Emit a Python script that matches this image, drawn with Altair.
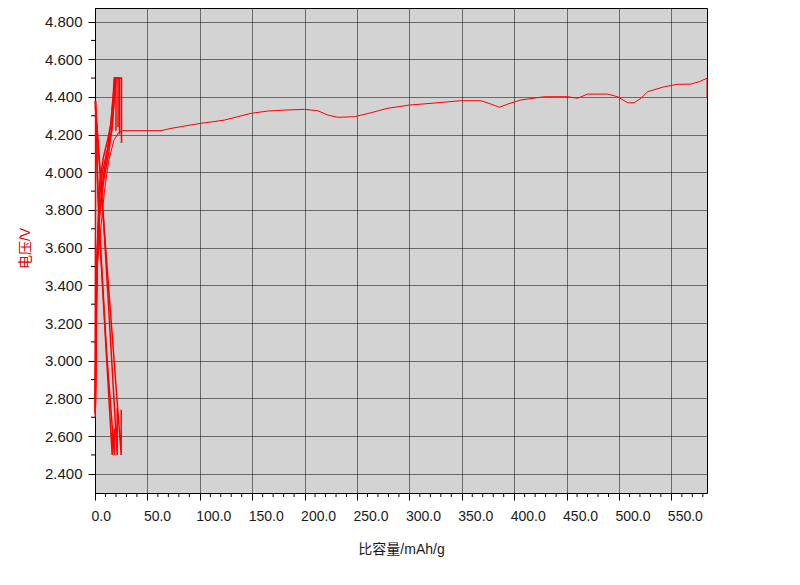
import altair as alt
import pandas as pd

# ---- data (x: specific capacity mAh/g, v: voltage V) ----
c1_x = [0.0, 0.3, 0.5, 0.5]
c1_v = [2.72, 3.40, 4.00, 4.38]
d1_x = [0.5, 2.0, 3.6, 10.0, 16.4, 16.6]
d1_v = [4.38, 4.05, 3.75, 3.12, 2.50, 2.62]
c2_x = [0.3, 1.5, 3.6, 8.0, 12.0, 15.5, 17.5, 18.3, 20.0, 20.0]
c2_v = [2.78, 3.40, 3.72, 3.98, 4.12, 4.28, 4.42, 4.50, 4.50, 4.22]
d2_x = [0.8, 2.5, 4.5, 11.0, 18.5, 18.6]
d2_v = [4.30, 3.95, 3.68, 3.05, 2.50, 2.64]
c3_x = [0.4, 2.0, 4.6, 8.0, 12.0, 15.0, 17.5, 19.0, 22.0, 22.0]
c3_v = [2.75, 3.55, 3.95, 4.08, 4.17, 4.25, 4.40, 4.50, 4.50, 4.24]
d3_x = [0.2, 8.1, 21.2, 21.2]
d3_v = [4.38, 3.75, 2.50, 2.75]
c4_x = [0.3, 1.8, 4.0, 7.0, 11.0, 16.0, 18.5, 20.0, 23.5, 23.5]
c4_v = [2.80, 3.55, 3.85, 4.00, 4.10, 4.22, 4.40, 4.50, 4.50, 4.20]
d4_x = [0.3, 8.1, 25.0, 25.0]
d4_v = [4.35, 3.75, 2.50, 2.74]
c5_x = [0.2, 1.0, 3.0, 5.5, 9.0, 13.0, 16.5, 18.5, 19.5, 24.5, 25.3, 25.3]
c5_v = [2.70, 3.30, 3.70, 3.85, 3.98, 4.10, 4.25, 4.40, 4.50, 4.50, 4.50, 4.155]
main_x = [0.5, 2.0, 5.2, 9.0, 13.0, 18.0, 22.4, 26.4, 40.0, 63.0, 72.5, 86.0, 101.0,
          112.0, 123.4, 136.0, 149.0, 164.8, 180.0, 199.7, 212.5, 222.0, 231.6,
          247.4, 263.4, 279.3, 292.0, 300.0, 320.6, 349.0, 368.3, 377.9, 385.8,
          393.8, 406.5, 428.7, 451.0, 460.6, 470.0, 489.2, 498.7, 508.3, 514.6,
          521.0, 527.4, 543.2, 556.0, 568.7, 576.6, 584.0, 584.0]
main_v = [2.76, 3.50, 3.68, 3.90, 4.06, 4.17, 4.21, 4.221, 4.221, 4.221, 4.233, 4.246,
          4.260, 4.268, 4.277, 4.295, 4.313, 4.325, 4.330, 4.334, 4.327, 4.304,
          4.292, 4.295, 4.316, 4.340, 4.350, 4.357, 4.366, 4.380, 4.380, 4.362,
          4.345, 4.362, 4.384, 4.401, 4.401, 4.393, 4.415, 4.415, 4.401, 4.369,
          4.369, 4.393, 4.428, 4.454, 4.467, 4.468, 4.481, 4.499, 4.400]

x_major = [0, 50, 100, 150, 200, 250, 300, 350, 400, 450, 500, 550]
x_minor = [10, 20, 30, 40, 60, 70, 80, 90, 110, 120, 130, 140, 160, 170, 180, 190,
           210, 220, 230, 240, 260, 270, 280, 290, 310, 320, 330, 340, 360, 370,
           380, 390, 410, 420, 430, 440, 460, 470, 480, 490, 510, 520, 530, 540,
           560, 570, 580]
y_major = [2.4, 2.6, 2.8, 3.0, 3.2, 3.4, 3.6, 3.8, 4.0, 4.2, 4.4, 4.6, 4.8]
y_minor = [2.5, 2.7, 2.9, 3.1, 3.3, 3.5, 3.7, 3.9, 4.1, 4.3, 4.5, 4.7]

early = {
    "c1": (c1_x, c1_v), "d1": (d1_x, d1_v), "c2": (c2_x, c2_v), "d2": (d2_x, d2_v),
    "c3": (c3_x, c3_v), "d3": (d3_x, d3_v), "c4": (c4_x, c4_v), "d4": (d4_x, d4_v),
    "c5": (c5_x, c5_v),
}


def to_frame(segs):
    rows = []
    for name, (xs, vs) in segs.items():
        for i, (xv, vv) in enumerate(zip(xs, vs)):
            rows.append({"seg": name, "i": i, "x": xv, "v": vv})
    return pd.DataFrame(rows)


df_early = to_frame(early)
df_main = to_frame({"main": (main_x, main_v)})

W, H = 612, 485
FONT = "Liberation Sans, Arial, Noto Sans CJK SC"
xscale = alt.Scale(domain=[0, 584], nice=False, zero=False)
yscale = alt.Scale(domain=[2.298, 4.872], nice=False, zero=False)

xaxis = alt.Axis(
    values=x_major, format=".1f", title="比容量/mAh/g",
    tickSize=7, tickColor="#000", domainColor="#000",
    labelFont=FONT, labelFontSize=14, labelColor="#1a1a1a",
    labelAlign="left", labelOffset=-4, labelPadding=9,
    labelFlush=False, labelOverlap=False,
    grid=True, gridColor="#000", gridDash=[1, 1], gridWidth=1,
    titleFont=FONT, titleFontSize=14, titleFontWeight="normal",
    titleColor="#1a1a1a", titleBaseline="middle", titleY=56)
yaxis = alt.Axis(
    values=y_major, format=".3f", title="电压/V",
    tickSize=7, tickColor="#000", domainColor="#000",
    labelFont=FONT, labelFontSize=15, labelColor="#1a1a1a", labelPadding=6,
    labelFlush=False, labelOverlap=False,
    grid=True, gridColor="#000", gridDash=[1, 1], gridWidth=1,
    titleFont=FONT, titleFontSize=14, titleFontWeight="normal",
    titleColor="#e00000", titleAngle=270, titleBaseline="middle",
    titleAlign="center", titleX=-70, titleY=240)

line_main = alt.Chart(df_main).mark_line(color="#ff0000", strokeWidth=1).encode(
    x=alt.X("x:Q", scale=xscale, axis=xaxis),
    y=alt.Y("v:Q", scale=yscale, axis=yaxis),
    detail="seg:N",
    order="i:Q",
)
line_early = alt.Chart(df_early).mark_line(color="#ff0000", strokeWidth=1.5).encode(
    x=alt.X("x:Q", scale=xscale, axis=xaxis),
    y=alt.Y("v:Q", scale=yscale, axis=yaxis),
    detail="seg:N",
    order="i:Q",
)

ymin_df = pd.DataFrame({"v": y_minor})
ymin = alt.Chart(ymin_df).mark_rule(color="#000", strokeWidth=1).encode(
    y=alt.Y("v:Q", scale=yscale, axis=yaxis),
    x=alt.value(-4), x2=alt.value(0),
)
xmin_df = pd.DataFrame({"x": x_minor})
xmin = alt.Chart(xmin_df).mark_rule(color="#000", strokeWidth=1).encode(
    x=alt.X("x:Q", scale=xscale, axis=xaxis),
    y=alt.value(H), y2=alt.value(H + 4),
)

chart = alt.layer(line_main, line_early, ymin, xmin).properties(
    width=W, height=H,
    background="#ffffff",
    autosize=alt.AutoSizeParams(type="none"),
    padding={"left": 87, "top": 0, "right": 85, "bottom": 84},
).configure_view(
    fill="#d3d3d3", stroke="#000", strokeWidth=1,
)

chart.save("out.html", embed_options={"renderer": "svg", "actions": False})
